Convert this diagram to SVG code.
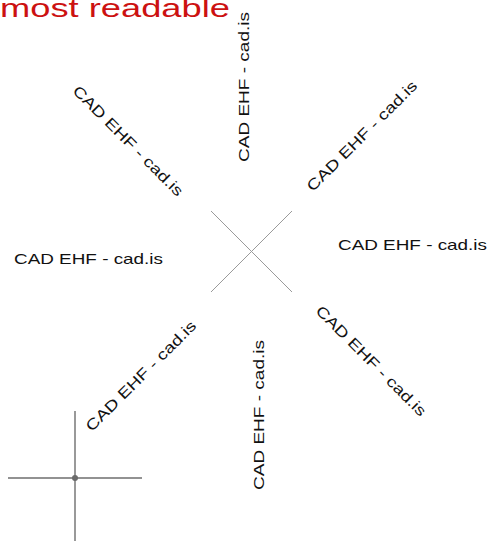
<svg xmlns="http://www.w3.org/2000/svg" width="491" height="541" viewBox="0 0 491 541">
<style>
.lbl{font-family:"Liberation Sans",Arial,sans-serif;font-size:15px;fill:#111;text-anchor:middle}
.title{font-family:"Liberation Sans",Arial,sans-serif;font-size:26px;fill:#cc1111}
.x{stroke:#9a9a9a;stroke-width:1}
.ch{stroke:#6e6e6e;stroke-width:1.4}
</style>
<rect width="491" height="541" fill="#fff"/>
<g id="title"><text class="title" x="0" y="17" textLength="230" lengthAdjust="spacingAndGlyphs">most readable</text></g>
<g id="center-x">
<line class="x" x1="211" y1="211" x2="292" y2="292"/>
<line class="x" x1="292" y1="211" x2="211" y2="292"/>
</g>
<g id="crosshair">
<line class="ch" x1="75" y1="411" x2="75" y2="541"/>
<line class="ch" x1="8" y1="478" x2="142" y2="478"/>
<circle cx="75" cy="478" r="3" fill="#6a6a6a"/>
</g>
<g id="label-top"><text class="lbl" transform="translate(244,87) rotate(-90)" x="0" y="5" textLength="150" lengthAdjust="spacingAndGlyphs">CAD EHF - cad.is</text></g>
<g id="label-top-right"><text class="lbl" transform="translate(362,136) rotate(-45)" x="0" y="5" textLength="149" lengthAdjust="spacingAndGlyphs">CAD EHF - cad.is</text></g>
<g id="label-right"><text class="lbl" transform="translate(412.5,245)" x="0" y="5" textLength="149" lengthAdjust="spacingAndGlyphs">CAD EHF - cad.is</text></g>
<g id="label-bottom-right"><text class="lbl" transform="translate(371,361) rotate(45)" x="0" y="5" textLength="149" lengthAdjust="spacingAndGlyphs">CAD EHF - cad.is</text></g>
<g id="label-bottom"><text class="lbl" transform="translate(259,415) rotate(-90)" x="0" y="5" textLength="150" lengthAdjust="spacingAndGlyphs">CAD EHF - cad.is</text></g>
<g id="label-bottom-left"><text class="lbl" transform="translate(141,376) rotate(-45)" x="0" y="5" textLength="149" lengthAdjust="spacingAndGlyphs">CAD EHF - cad.is</text></g>
<g id="label-left"><text class="lbl" transform="translate(88.5,259)" x="0" y="5" textLength="149" lengthAdjust="spacingAndGlyphs">CAD EHF - cad.is</text></g>
<g id="label-top-left"><text class="lbl" transform="translate(128,141) rotate(45)" x="0" y="5" textLength="149" lengthAdjust="spacingAndGlyphs">CAD EHF - cad.is</text></g>
</svg>
